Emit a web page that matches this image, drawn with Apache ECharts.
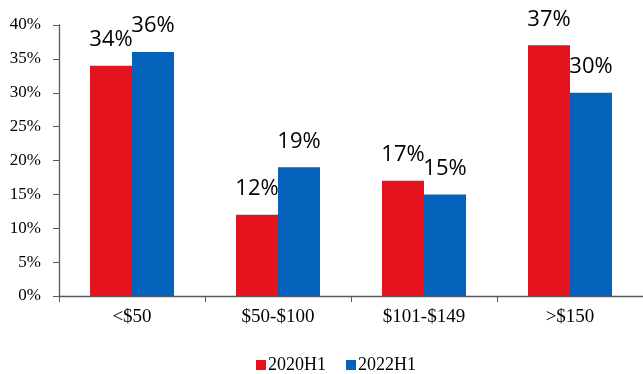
<!DOCTYPE html>
<html>
<head>
<meta charset="utf-8">
<script src="https://cdn.jsdelivr.net/npm/echarts@6/dist/echarts.min.js"></script>
<style>
  html, body { margin: 0; padding: 0; background: #ffffff; }
  #chart { width: 643px; height: 374px; }
</style>
</head>
<body>
<div id="chart"></div>
<script>
// Price bands and share of sales per half-year
const categories = ['<$50', '$50-$100', '$101-$149', '>$150'];
const seriesNames = ['2020H1', '2022H1'];
const values2020H1 = [34, 12, 17, 37];
const values2022H1 = [36, 19, 15, 30];
const yTicks = { min: 0, max: 40, step: 5 };

const serif = '"Liberation Serif", "Times New Roman", serif';
const sans = '"Open Sans", "Noto Sans", sans-serif';
const axisColor = '#595959';

function barSeries(name, data, color) {
  return {
    name: name,
    type: 'bar',
    data: data,
    barWidth: 42,
    barGap: '0%',
    itemStyle: { color: color },
    label: {
      show: true,
      position: 'top',
      distance: 15,
      formatter: '{c}%',
      fontFamily: sans,
      fontSize: 22,
      color: '#000000'
    }
  };
}

const chart = echarts.init(document.getElementById('chart'), null, { renderer: 'canvas' });
chart.setOption({
  animation: false,
  backgroundColor: '#ffffff',
  grid: { left: 59, right: -3, top: 25, bottom: 78, containLabel: false },
  legend: {
    data: seriesNames,
    left: 251,
    top: 351,
    itemWidth: 10,
    itemHeight: 10,
    itemGap: 20,
    icon: 'rect',
    textStyle: { fontFamily: serif, fontSize: 18, color: '#000000', padding: [0, 0, 0, -3] }
  },
  xAxis: {
    type: 'category',
    data: categories,
    axisLine: { lineStyle: { color: axisColor, width: 1.3 } },
    axisTick: { show: true, length: 6, alignWithLabel: false, lineStyle: { color: axisColor } },
    axisLabel: { fontFamily: serif, fontSize: 19, color: '#000000', margin: 12 },
    splitLine: { show: false }
  },
  yAxis: {
    type: 'value',
    min: yTicks.min,
    max: yTicks.max,
    interval: yTicks.step,
    axisLine: { show: true, lineStyle: { color: axisColor, width: 1.3 } },
    axisTick: { show: true, length: 6, lineStyle: { color: axisColor } },
    axisLabel: { fontFamily: serif, fontSize: 17, color: '#000000', margin: 18, formatter: '{value}%' },
    splitLine: { show: false }
  },
  series: [
    barSeries(seriesNames[0], values2020H1, '#E4131D'),
    barSeries(seriesNames[1], values2022H1, '#0462BA')
  ]
});
</script>
</body>
</html>
